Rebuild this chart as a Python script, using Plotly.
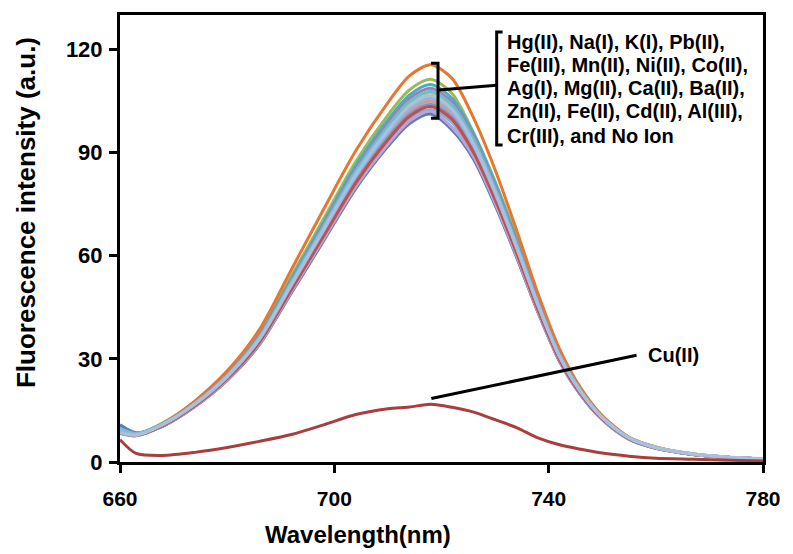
import plotly.graph_objects as go

# Emission wavelengths (nm) at which the spectra are sampled
wavelength = [660, 663, 668, 674, 680, 686, 692, 698, 704, 710, 714, 718, 722,
              726, 730, 734, 738, 742, 746, 750, 755, 760, 767, 774, 780]

# Fluorescence intensity (a.u.) for each metal ion added
hg_ii = [10.8, 8.5, 10.4, 16.1, 23.7, 34.1, 49.2, 64.3, 79.5, 91.8, 98.4, 101.2, 96.5, 88.0, 74.7, 59.6, 43.5, 29.3, 19.4, 12.3, 6.6, 4.0, 2.2, 1.3, 0.9]
na_i = [9.2, 8.1, 11.4, 17.6, 26.0, 37.4, 54.1, 70.7, 87.4, 100.9, 108.2, 111.3, 107.1, 95.7, 81.6, 65.3, 47.6, 32.2, 21.1, 13.2, 7.1, 4.3, 2.3, 1.3, 0.9]
k_i = [8.3, 7.6, 10.5, 16.2, 23.8, 34.2, 49.5, 64.7, 79.9, 92.2, 98.9, 101.8, 97.1, 88.5, 75.1, 59.9, 43.7, 29.5, 19.5, 12.4, 6.7, 4.0, 2.2, 1.3, 0.9]
pb_ii = [9.6, 8.3, 11.2, 17.4, 25.7, 37.0, 53.4, 69.8, 86.2, 99.5, 106.7, 109.8, 105.7, 95.4, 81.1, 64.6, 47.2, 31.8, 21.0, 13.3, 7.2, 4.3, 2.3, 1.3, 0.9]
fe_iii = [8.5, 7.8, 11.2, 17.8, 26.5, 38.5, 56.0, 73.5, 90.5, 104.5, 112.3, 115.5, 111.5, 100.0, 85.0, 67.5, 49.0, 33.0, 21.5, 13.5, 7.2, 4.4, 2.3, 1.3, 0.8]
mn_ii = [9.5, 8.2, 10.5, 16.3, 24.0, 34.5, 49.8, 65.1, 80.5, 92.9, 99.6, 102.5, 98.7, 89.1, 75.7, 60.4, 44.1, 29.7, 19.6, 12.5, 6.7, 4.1, 2.2, 1.3, 0.9]
ni_ii = [8.7, 7.8, 10.6, 16.5, 24.2, 34.8, 50.3, 65.8, 81.3, 93.9, 100.7, 103.6, 99.8, 90.1, 76.5, 61.0, 44.5, 30.0, 19.8, 12.6, 6.8, 4.1, 2.2, 1.3, 0.9]
co_ii = [8.5, 7.7, 10.5, 16.2, 23.8, 34.3, 49.6, 64.8, 80.1, 92.4, 99.1, 102.0, 97.2, 88.7, 75.3, 60.0, 43.8, 29.5, 19.5, 12.4, 6.7, 4.0, 2.2, 1.3, 0.9]
ag_i = [9.3, 8.1, 10.7, 16.6, 24.4, 35.2, 50.8, 66.4, 82.1, 94.8, 101.6, 104.5, 100.6, 90.9, 77.2, 61.6, 44.9, 30.3, 20.0, 12.7, 6.9, 4.1, 2.2, 1.3, 0.9]
mg_ii = [8.9, 7.9, 10.8, 16.7, 24.5, 35.3, 51.0, 66.7, 82.4, 95.2, 102.0, 105.0, 101.1, 91.3, 77.5, 61.8, 45.1, 30.4, 20.1, 12.8, 6.9, 4.2, 2.2, 1.3, 0.9]
ca_ii = [9.7, 8.3, 10.7, 16.5, 24.3, 35.0, 50.5, 66.1, 81.6, 94.3, 101.1, 104.0, 100.2, 90.5, 76.8, 61.3, 44.7, 30.1, 19.9, 12.6, 6.8, 4.1, 2.2, 1.3, 0.9]
ba_ii = [9.0, 7.9, 10.6, 16.4, 24.2, 34.8, 50.2, 65.7, 81.1, 93.7, 100.5, 103.4, 99.6, 89.9, 76.4, 60.9, 44.4, 29.9, 19.8, 12.6, 6.8, 4.1, 2.2, 1.3, 0.9]
zn_ii = [9.0, 8.0, 11.0, 17.0, 25.1, 36.1, 52.2, 68.2, 84.3, 97.3, 104.3, 107.3, 103.3, 93.3, 79.2, 63.2, 46.1, 31.1, 20.6, 13.0, 7.0, 4.2, 2.2, 1.3, 0.9]
fe_ii = [8.8, 7.9, 11.0, 17.2, 25.4, 36.6, 52.8, 69.1, 85.3, 98.5, 105.7, 108.7, 104.6, 94.5, 80.2, 64.0, 46.7, 31.5, 20.8, 13.1, 7.1, 4.2, 2.2, 1.3, 0.9]
cd_ii = [9.8, 8.3, 11.1, 17.1, 25.2, 36.3, 52.4, 68.5, 84.6, 97.7, 104.8, 107.8, 103.8, 93.7, 79.6, 63.5, 46.3, 31.2, 20.7, 13.1, 7.1, 4.2, 2.3, 1.3, 0.9]
al_iii = [9.1, 8.0, 10.9, 16.9, 24.8, 35.7, 51.6, 67.5, 83.4, 96.3, 103.2, 106.2, 102.2, 92.3, 78.4, 62.5, 45.7, 30.8, 20.3, 12.9, 7.0, 4.2, 2.3, 1.3, 0.9]
cr_iii = [9.4, 8.2, 10.9, 16.8, 24.7, 35.6, 51.4, 67.3, 83.1, 95.9, 102.9, 105.8, 101.9, 92.0, 78.1, 62.3, 45.5, 30.7, 20.3, 12.9, 7.0, 4.2, 2.3, 1.3, 0.9]
no_ion = [8.6, 7.8, 10.9, 16.9, 24.9, 35.8, 51.7, 67.7, 83.6, 96.5, 103.5, 106.5, 102.5, 92.5, 78.6, 62.7, 45.8, 30.8, 20.4, 12.9, 7.0, 4.2, 2.3, 1.4, 1.0]
cu_ii = [6.5, 2.5, 1.9, 2.8, 4.2, 6.0, 8.0, 10.8, 13.8, 15.5, 16.0, 16.8, 15.9, 14.5, 12.3, 10.0, 7.0, 5.0, 3.7, 2.6, 1.7, 1.1, 0.8, 0.5, 0.3]

series = [
    ("Hg(II)", hg_ii, "#4F81BD"),
    ("Na(I)", na_i, "#9BBB59"),
    ("K(I)", k_i, "#8064A2"),
    ("Pb(II)", pb_ii, "#4BACC6"),
    ("Fe(III)", fe_iii, "#E8772E"),
    ("Mn(II)", mn_ii, "#8EA9DB"),
    ("Ni(II)", ni_ii, "#5F7530"),
    ("Co(II)", co_ii, "#B4A7D6"),
    ("Ag(I)", ag_i, "#93CDDD"),
    ("Mg(II)", mg_ii, "#D99694"),
    ("Ca(II)", ca_ii, "#729ACA"),
    ("Ba(II)", ba_ii, "#C0504D"),
    ("Zn(II)", zn_ii, "#AFC97A"),
    ("Fe(II)", fe_ii, "#9983B5"),
    ("Cd(II)", cd_ii, "#6FBDD1"),
    ("Al(III)", al_iii, "#F9AB6B"),
    ("Cr(III)", cr_iii, "#95B3D7"),
    ("No Ion", no_ion, "#A9C1E0"),
    ("Cu(II)", cu_ii, "#A83F3C"),
]

ion_lines = [
    "Hg(II), Na(I), K(I), Pb(II),",
    "Fe(III), Mn(II), Ni(II), Co(II),",
    "Ag(I), Mg(II), Ca(II), Ba(II),",
    "Zn(II), Fe(II), Cd(II), Al(III),",
    "Cr(III), and No Ion",
]
x_ticks = [660, 700, 740, 780]
y_ticks = [0, 30, 60, 90, 120]

BOLD = "Liberation Sans"

fig = go.Figure()
for name, vals, color in series:
    fig.add_trace(go.Scatter(
        x=wavelength, y=vals, name=name, mode="lines",
        line=dict(color=color, width=3, shape="spline", smoothing=0.8),
    ))

axis_common = dict(
    showline=True, linecolor="black", linewidth=3, mirror=True,
    ticks="outside", tickcolor="black", tickwidth=3, ticklen=8,
    showgrid=False, zeroline=False,
)

fig.update_xaxes(range=[660, 780], tickvals=x_ticks,
                 tickfont=dict(family=BOLD, size=21, color="black", weight="bold"),
                 ticklabelstandoff=8, **axis_common)
fig.update_yaxes(range=[0, 130], tickvals=y_ticks,
                 tickfont=dict(family=BOLD, size=22, color="black", weight="bold"),
                 ticklabelstandoff=2, **axis_common)

annotations = []
# Axis titles
annotations.append(dict(text="Wavelength(nm)", xref="paper", yref="paper",
                        x=0.3694, y=-0.1617, xanchor="center", yanchor="middle",
                        showarrow=False,
                        font=dict(family=BOLD, size=24, color="black", weight="bold")))
annotations.append(dict(text="Fluorescence intensity (a.u.)", xref="paper", yref="paper",
                        x=-0.1450, y=0.5586, xanchor="center", yanchor="middle",
                        textangle=-90, showarrow=False,
                        font=dict(family=BOLD, size=26, color="black", weight="bold")))
# Grouped ion labels, one line each
label_y = [122.2, 115.6, 108.8, 102.0, 94.9]
for txt, yv in zip(ion_lines, label_y):
    annotations.append(dict(text=txt, xref="x", yref="y", x=731.8, y=yv,
                            xanchor="left", yanchor="middle", showarrow=False,
                            font=dict(family=BOLD, size=20, color="black", weight="bold")))
annotations.append(dict(text="Cu(II)", xref="x", yref="y", x=758.1, y=31.05,
                        xanchor="left", yanchor="middle", showarrow=False,
                        font=dict(family=BOLD, size=20, color="black", weight="bold")))

line_style = dict(color="black", width=3)
shapes = [
    # bracket around the peak maxima
    dict(type="path", xref="x", yref="y",
         path="M 718.05,115.95 L 719.35,115.95 L 719.35,99.94 L 718.05,99.94",
         line=line_style),
    # connector to the label bracket
    dict(type="line", xref="x", yref="y", x0=719.5, y0=108.2, x1=730.3, y1=109.6,
         line=line_style),
    # bracket in front of the ion list
    dict(type="path", xref="x", yref="y",
         path="M 731.4,125.06 L 730.3,125.06 L 730.3,92.17 L 731.4,92.17",
         line=line_style),
    # pointer to the Cu(II) spectrum
    dict(type="line", xref="x", yref="y", x0=718.1, y0=18.45, x1=756.4, y1=31.05,
         line=line_style),
]

fig.update_layout(
    width=793, height=554,
    margin=dict(l=120, r=26, t=15, b=92),
    paper_bgcolor="white", plot_bgcolor="white",
    showlegend=False,
    annotations=annotations,
    shapes=shapes,
)

fig.write_html("out.html")
